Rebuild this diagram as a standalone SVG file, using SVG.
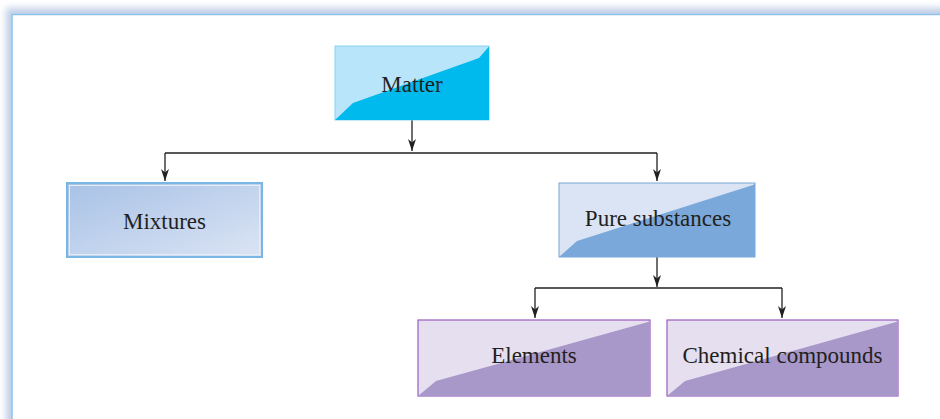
<svg xmlns="http://www.w3.org/2000/svg" width="940" height="419" viewBox="0 0 940 419">
<style>
.lbl{font-family:"Liberation Serif","Times New Roman",serif;font-size:23px;fill:#231f20;text-anchor:middle}
.conn{fill:none;stroke:#231f20;stroke-width:1.3}
</style>
<defs>
<filter id="sh" x="-5%" y="-5%" width="110%" height="110%"><feGaussianBlur stdDeviation="3.5"/></filter>
<linearGradient id="mixg" x1="0" y1="0" x2="1" y2="1"><stop offset="0" stop-color="#a8c2e6"/><stop offset="1" stop-color="#dbe4f4"/></linearGradient>
<marker id="ad" viewBox="0 0 8 12" refX="4" refY="12" markerWidth="8" markerHeight="12" markerUnits="userSpaceOnUse" orient="0">
<path d="M0,0 L4,3.5 L8,0 L4,12 Z" fill="#231f20"/>
</marker>
</defs>
<g id="panel">
<rect x="6" y="8" width="960" height="430" fill="#bfcfe6" filter="url(#sh)"/>
<rect x="12" y="14.5" width="950" height="420" fill="#ffffff" stroke="#8ec3ec" stroke-width="1.5"/>
</g>
<g id="connectors">
<path class="conn" d="M412,120 V151" marker-end="url(#ad)"/>
<path class="conn" d="M165,153 H657"/>
<path class="conn" d="M165,153 V181" marker-end="url(#ad)"/>
<path class="conn" d="M657,153 V181" marker-end="url(#ad)"/>
<path class="conn" d="M657,257 V287" marker-end="url(#ad)"/>
<path class="conn" d="M535,288 H782"/>
<path class="conn" d="M535,288 V318" marker-end="url(#ad)"/>
<path class="conn" d="M782,288 V318" marker-end="url(#ad)"/>
</g>
<g id="matter">
<rect x="335" y="46" width="154" height="74" fill="#b8e5f9" stroke="#86d3f2" stroke-width="1"/>
<path d="M335,120 L353,103 L479,58 L489,46.5 L489,120 Z" fill="#00b9ed"/>
<text class="lbl" x="412" y="92">Matter</text>
</g>
<g id="mixtures">
<rect x="67" y="183" width="195" height="74" fill="url(#mixg)" stroke="#79b6e4" stroke-width="2"/>
<rect x="69.5" y="185.5" width="190" height="69" fill="none" stroke="#e4edf8" stroke-width="1"/>
<text class="lbl" x="164.5" y="229">Mixtures</text>
</g>
<g id="pure">
<rect x="559" y="183" width="196" height="74" fill="#dbe4f4" stroke="#7aa7d9" stroke-width="1"/>
<path d="M559,257 L577,241 L753,185 L755,183.5 L755,257 Z" fill="#7ba8da"/>
<text class="lbl" x="658" y="226">Pure substances</text>
</g>
<g id="elements">
<rect x="418" y="320" width="232" height="76" fill="#e6dff0" stroke="#9b5cc0" stroke-width="1.2"/>
<path d="M418,396 L436,381 L648,322 L650,321 L650,396 Z" fill="#a898c9"/>
<text class="lbl" x="534" y="363">Elements</text>
</g>
<g id="compounds">
<rect x="667" y="320" width="231" height="76" fill="#e6dff0" stroke="#9b5cc0" stroke-width="1.2"/>
<path d="M667,396 L685,381 L896,322 L898,321 L898,396 Z" fill="#a898c9"/>
<text class="lbl" x="782.5" y="363">Chemical compounds</text>
</g>
</svg>
